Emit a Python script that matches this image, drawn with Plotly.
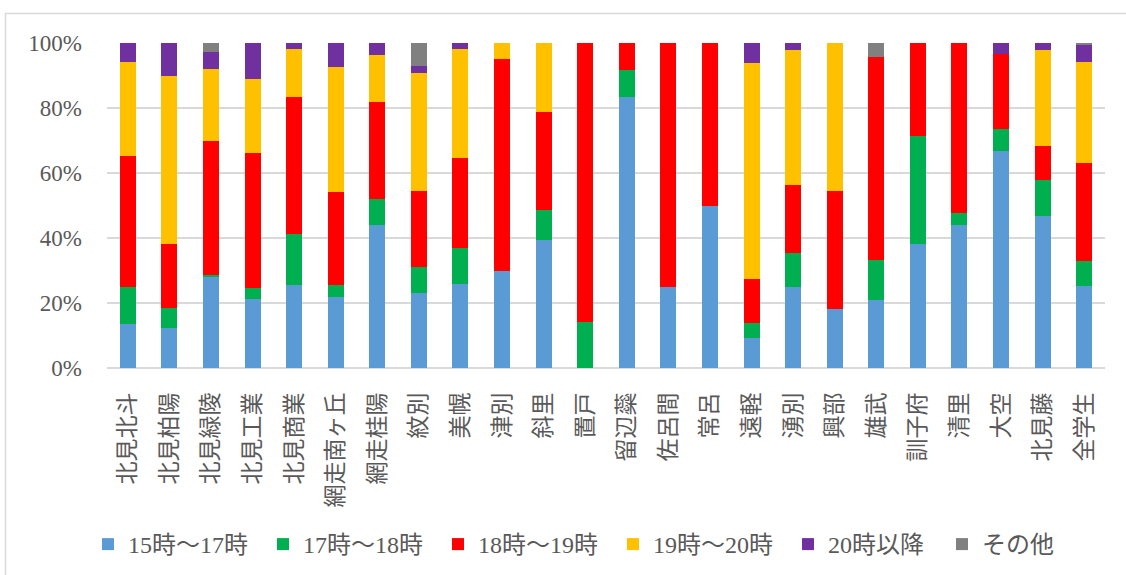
import plotly.graph_objects as go

categories = ["北見北斗", "北見柏陽", "北見緑陵", "北見工業", "北見商業", "網走南ヶ丘",
              "網走桂陽", "紋別", "美幌", "津別", "斜里", "置戸", "留辺蘂", "佐呂間",
              "常呂", "遠軽", "湧別", "興部", "雄武", "訓子府", "清里", "大空", "北見藤", "全学生"]

s15_17 = [13.6, 12.3, 28.2, 21.2, 25.6, 21.9, 43.9, 23.1, 25.7, 30.0, 39.3, 0.0, 83.3, 25.0,
          50.0, 9.3, 25.0, 18.2, 20.8, 38.1, 43.9, 66.7, 46.7, 25.3]
s17_18 = [11.2, 6.2, 0.5, 3.4, 15.7, 3.5, 8.1, 8.1, 11.3, 0.0, 9.2, 14.3, 8.3, 0.0,
          0.0, 4.5, 10.4, 0.0, 12.5, 33.3, 3.9, 6.7, 11.1, 7.7]
s18_19 = [40.5, 19.8, 41.0, 41.7, 42.2, 28.9, 30.0, 23.3, 27.7, 65.0, 30.3, 85.7, 8.4, 75.0,
          50.0, 13.5, 20.8, 36.4, 62.5, 28.6, 52.2, 23.3, 10.4, 30.2]
s19_20 = [28.9, 51.6, 22.2, 22.6, 14.7, 38.2, 14.2, 36.4, 33.4, 5.0, 21.2, 0.0, 0.0, 0.0,
          0.0, 66.7, 41.7, 45.4, 0.0, 0.0, 0.0, 0.0, 29.5, 31.1]
s20_after = [5.8, 10.1, 5.3, 11.1, 1.8, 7.5, 3.8, 2.0, 1.9, 0.0, 0.0, 0.0, 0.0, 0.0,
             0.0, 6.0, 2.1, 0.0, 0.0, 0.0, 0.0, 3.3, 2.3, 5.1]
s_other = [0.0, 0.0, 2.8, 0.0, 0.0, 0.0, 0.0, 7.1, 0.0, 0.0, 0.0, 0.0, 0.0, 0.0,
           0.0, 0.0, 0.0, 0.0, 4.2, 0.0, 0.0, 0.0, 0.0, 0.6]

series_names = ["15時～17時", "17時～18時", "18時～19時", "19時～20時", "20時以降", "その他"]
series_values = [s15_17, s17_18, s18_19, s19_20, s20_after, s_other]
colors = ["#5B9BD5", "#00B050", "#FF0000", "#FFC000", "#7030A0", "#808080"]
legend_ids = ["legend", "legend", "legend", "legend", "legend", "legend2"]

fig = go.Figure()
for name, vals, col, lg in zip(series_names, series_values, colors, legend_ids):
    fig.add_trace(go.Bar(x=categories, y=vals, name=name, marker_color=col,
                         marker_line_width=0, legend=lg))

W, H = 1126, 575
L, R, T, B = 107, 21, 43, 207
pw, ph = W - L - R, H - T - B

def px_x(p):
    return (p - L) / pw

def px_y(p):
    return (H - B - p) / ph

legend_font = dict(size=24, family="Liberation Serif, Noto Sans CJK JP", color="#595959")

fig.update_layout(
    width=W, height=H,
    margin=dict(l=L, r=R, t=T, b=B, autoexpand=False),
    barmode="stack", barnorm="percent", bargap=0.615,
    plot_bgcolor="white", paper_bgcolor="white",
    font=dict(family="Liberation Serif, Noto Sans CJK JP", color="#595959", size=22),
    showlegend=True,
    legend=dict(orientation="h", x=px_x(88), xanchor="left", y=px_y(522), yanchor="top",
                font=legend_font, traceorder="normal", itemwidth=30,
                entrywidth=130, entrywidthmode="pixels"),
    legend2=dict(orientation="h", x=px_x(942), xanchor="left", y=px_y(522), yanchor="top",
                 font=legend_font, itemwidth=30),
    shapes=[dict(type="rect", xref="paper", yref="paper",
                 x0=px_x(5.5), x1=px_x(1140), y0=px_y(590), y1=px_y(13.5),
                 line=dict(color="#d9d9d9", width=1.5), fillcolor="rgba(0,0,0,0)",
                 layer="below")],
)
fig.update_xaxes(tickangle=-90, showgrid=False, showline=False, ticks="",
                 tickfont=dict(family="Noto Sans CJK JP", size=23, color="#595959"),
                 ticklabelstandoff=19)
fig.update_yaxes(range=[0, 100], dtick=20, ticksuffix="%", showgrid=True,
                 gridcolor="#d9d9d9", gridwidth=1.5, zeroline=True, zerolinecolor="#d9d9d9",
                 zerolinewidth=1.5, showline=False, ticks="",
                 tickfont=dict(family="Liberation Serif", size=23, color="#595959"),
                 ticklabelstandoff=24)

fig.write_html("out.html", config={"displayModeBar": False},
               post_script="document.body.style.margin='0px';")
